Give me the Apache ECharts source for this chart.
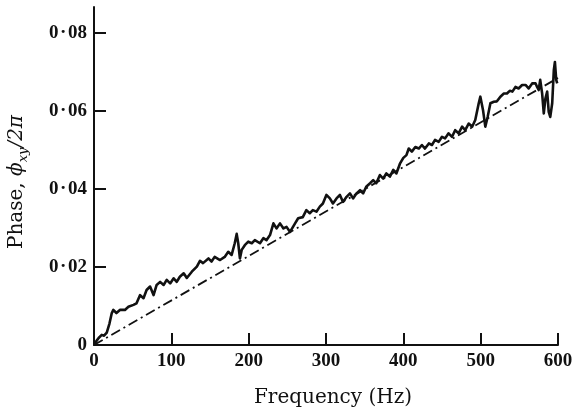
<!DOCTYPE html>
<html>
<head>
<meta charset="utf-8">
<script src="https://cdn.jsdelivr.net/npm/echarts@6/dist/echarts.min.js"></script>
<style>
html,body{margin:0;padding:0;background:#fff;}
#c{width:572px;height:410px;}
</style>
</head>
<body>
<div id="c"></div>
<script>
// Measured phase spectrum (frequency in Hz, phase as fraction of 2π)
const freq = [0, 3, 6, 10, 13, 16.5, 20, 23, 25, 29, 33.5, 40, 44.5, 51, 55, 59.6, 64, 68, 72.5, 77, 81, 85.5, 90, 94, 98.5, 103, 107, 111, 116, 120, 126.5, 133, 137, 141, 148, 152, 156, 163, 169, 173.6, 178, 182, 184.5, 186.5, 188.7, 191, 195, 199.5, 204, 208, 214.6, 219, 223, 227.6, 232, 236, 240.5, 245, 249, 253.5, 260, 264, 270, 274.6, 279, 283, 287.6, 292, 296, 300.5, 305, 309, 313.6, 318, 322, 326.6, 331, 335, 339.5, 344, 348, 352, 357, 361, 365, 369.7, 374, 378, 382.6, 387, 391, 395.6, 400, 404, 407, 411, 415.5, 420, 424, 428, 433, 437, 441, 445.7, 450, 454, 458.5, 463, 467, 471.5, 476, 480, 484.5, 489, 493, 497.5, 499.6, 503, 506, 509, 512.6, 517, 521, 525.5, 530, 534, 537.6, 541, 545, 549, 553.6, 558, 562, 566.6, 571, 573, 575, 577, 579.5, 581.6, 583.8, 586, 588, 590, 592.5, 594.6, 596, 597.7, 599];
const phase = [0, 0.001, 0.0018, 0.0026, 0.0024, 0.0032, 0.0055, 0.0082, 0.009, 0.0082, 0.009, 0.009, 0.0098, 0.0103, 0.0107, 0.0128, 0.012, 0.0141, 0.015, 0.0128, 0.0154, 0.0162, 0.0154, 0.0167, 0.0158, 0.0171, 0.0162, 0.0175, 0.0184, 0.0172, 0.0188, 0.0201, 0.0216, 0.021, 0.0222, 0.0214, 0.0226, 0.0218, 0.0226, 0.0239, 0.0231, 0.0261, 0.0285, 0.0261, 0.0222, 0.0244, 0.0256, 0.0265, 0.0261, 0.0269, 0.0261, 0.0274, 0.0269, 0.0282, 0.0312, 0.0299, 0.0312, 0.0299, 0.0303, 0.029, 0.0312, 0.0325, 0.0328, 0.0346, 0.0338, 0.0346, 0.0342, 0.0355, 0.0363, 0.0385, 0.0376, 0.0363, 0.0376, 0.0385, 0.0367, 0.038, 0.0389, 0.0376, 0.0389, 0.0397, 0.0389, 0.0406, 0.0415, 0.0423, 0.0415, 0.0436, 0.0427, 0.044, 0.0432, 0.0449, 0.044, 0.0465, 0.048, 0.0487, 0.0504, 0.0496, 0.0508, 0.0504, 0.0513, 0.0504, 0.0517, 0.0513, 0.0526, 0.0521, 0.0534, 0.053, 0.0543, 0.0534, 0.0551, 0.0543, 0.056, 0.0551, 0.0568, 0.056, 0.0577, 0.062, 0.0637, 0.0603, 0.056, 0.0585, 0.062, 0.0624, 0.0625, 0.0637, 0.0645, 0.0645, 0.0652, 0.065, 0.0662, 0.0658, 0.0667, 0.0667, 0.0658, 0.0671, 0.0671, 0.0662, 0.0654, 0.068, 0.0645, 0.0594, 0.0633, 0.065, 0.0598, 0.0585, 0.062, 0.0705, 0.0726, 0.068, 0.0671];
// Linear reference (dash-dot)
const fitFreq = [0, 600];
const fitPhase = [0, 0.0685];
// Axis ticks
const xTicks = [0, 100, 200, 300, 400, 500, 600];
const yTicks = [0, 0.02, 0.04, 0.06, 0.08];

const pairs = (xs, ys) => xs.map((x, i) => [x, ys[i]]);
const serif = '"Liberation Serif", "DejaVu Serif", serif';
const wide = '"DejaVu Serif", "Liberation Serif", serif';

const chart = echarts.init(document.getElementById('c'), null, {renderer: 'canvas'});
chart.setOption({
  animation: false,
  backgroundColor: '#fff',
  grid: {left: 94, right: 14, top: 7, bottom: 65, containLabel: false, outerBoundsMode: 'none'},
  xAxis: {
    type: 'value',
    min: 0, max: 600, interval: 100,
    name: 'Frequency (Hz)',
    nameLocation: 'middle',
    nameGap: 43,
    nameTextStyle: {fontFamily: wide, fontSize: 20, color: '#111', padding: [0, 0, 0, 14]},
    axisLine: {show: true, onZero: false, lineStyle: {color: '#111', width: 2}},
    axisTick: {show: true, inside: true, length: 12, lineStyle: {color: '#111', width: 2}, customValues: xTicks},
    axisLabel: {margin: 7, fontFamily: serif, fontSize: 19, fontWeight: 'bold', color: '#111', customValues: xTicks},
    splitLine: {show: false}
  },
  yAxis: {
    type: 'value',
    min: 0, max: 0.0867,
    name: '{r|Phase, }{i|ϕ}{s|xy}{i|/2π}',
    nameLocation: 'middle',
    nameRotate: 90,
    nameGap: 64,
    nameTextStyle: {
      fontFamily: wide, fontSize: 20, color: '#111', padding: [0, 12, 0, 0],
      rich: {
        r: {fontFamily: wide, fontSize: 20, color: '#111', lineHeight: 26, verticalAlign: 'middle'},
        i: {fontFamily: wide, fontSize: 20, fontStyle: 'italic', color: '#111', lineHeight: 26, verticalAlign: 'middle'},
        s: {fontFamily: wide, fontSize: 13, fontStyle: 'italic', color: '#111', lineHeight: 26, verticalAlign: 'bottom'}
      }
    },
    axisLine: {show: true, onZero: false, lineStyle: {color: '#111', width: 2}},
    axisTick: {show: true, inside: true, length: 12, lineStyle: {color: '#111', width: 2}, customValues: yTicks},
    axisLabel: {
      margin: 7, fontFamily: serif, fontSize: 19, fontWeight: 'bold', color: '#111',
      customValues: yTicks,
      formatter: v => v === 0 ? '0' : v.toFixed(2).replace('.', '\u200A·\u200A')
    },
    splitLine: {show: false}
  },
  series: [
    {
      type: 'line',
      data: pairs(fitFreq, fitPhase),
      showSymbol: false,
      lineStyle: {color: '#111', width: 1.8, type: [10, 4, 2, 4]},
      z: 2
    },
    {
      type: 'line',
      data: pairs(freq, phase),
      showSymbol: false,
      lineStyle: {color: '#111', width: 2.6, join: 'round'},
      z: 3
    }
  ]
});
</script>
</body>
</html>
